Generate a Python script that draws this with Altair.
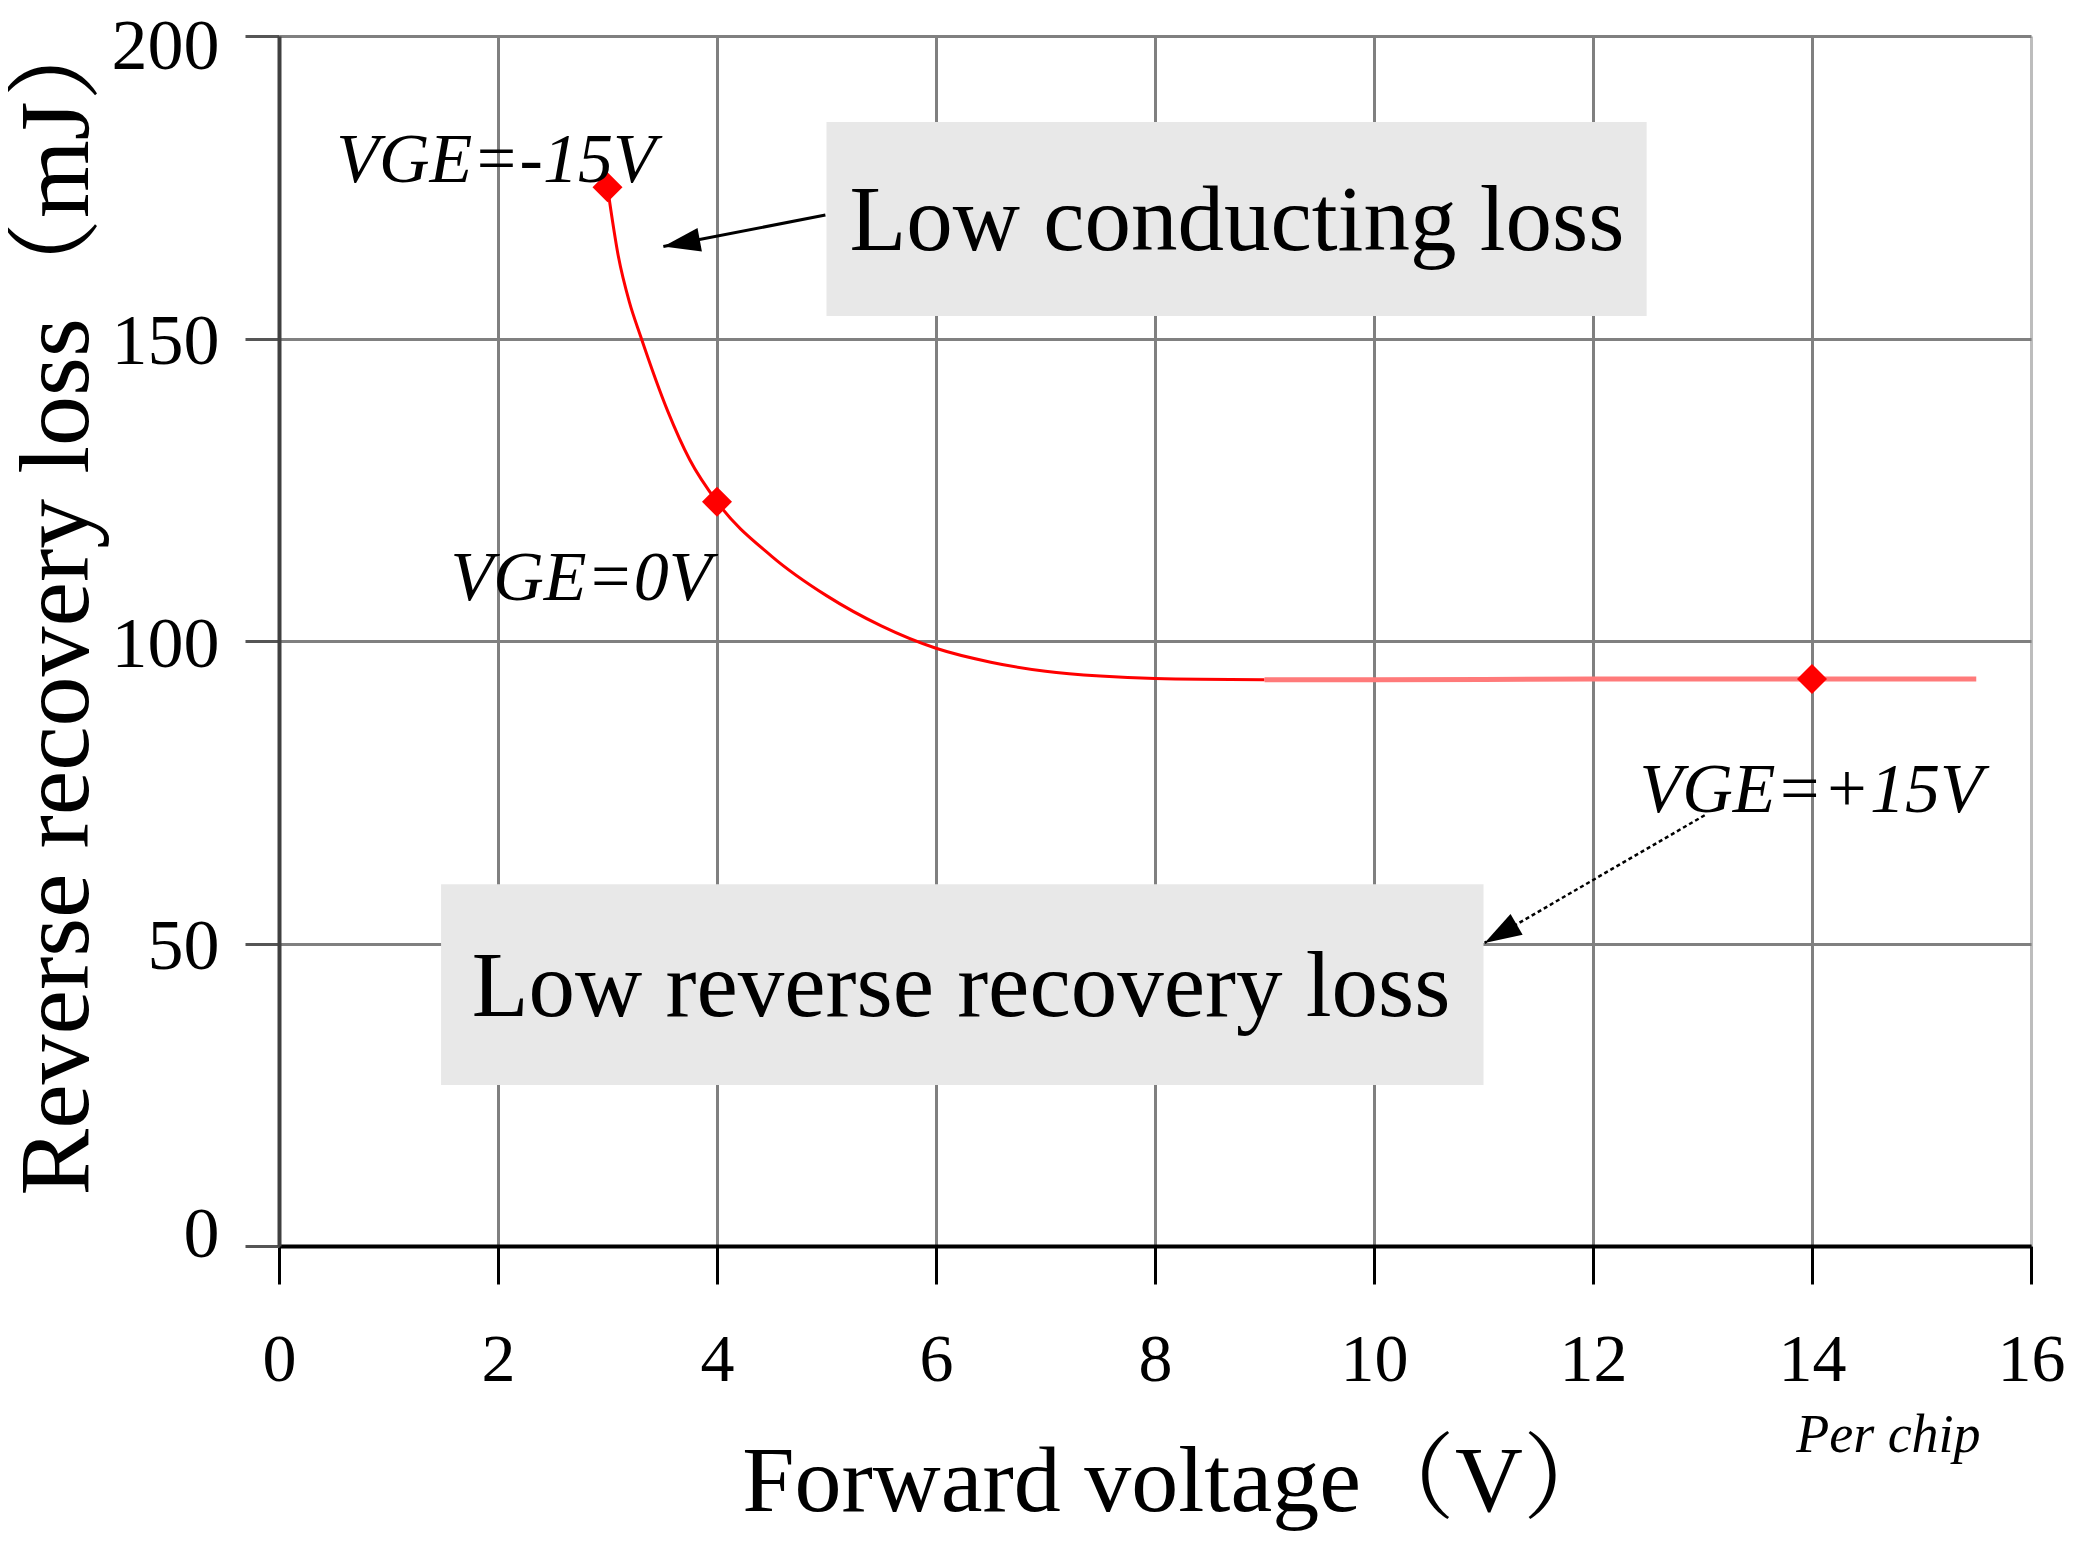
import altair as alt
import pandas as pd

# ---- data ----
curve_x = [3.0, 3.1, 3.2, 3.3, 3.55, 3.75, 4.0, 4.5, 5.0, 5.5, 6.0, 6.5, 7.0, 7.5, 8.0, 9.0]
curve_y = [175.0, 163.5, 156.0, 150.5, 138.0, 130.0, 123.0, 114.0, 107.5, 102.5, 98.8, 96.5, 95.0,
           94.2, 93.8, 93.6]
flat_x = [9.0, 10.0, 12.0, 14.0, 15.5]
flat_y = [93.6, 93.6, 93.7, 93.7, 93.7]
point_x = [3.0, 4.0, 14.0]
point_y = [175.0, 123.0, 93.7]

vge_text = ["VGE=-15V", "VGE=0V", "VGE=+15V"]
vge_x = [3.44, 3.95, 15.56]
vge_y = [175.9, 106.8, 71.7]

box_text = ["Low conducting loss", "Low reverse recovery loss"]
box_x = [5.0, 1.48]
box_x2 = [12.49, 11.0]
box_y = [185.8, 59.8]
box_y2 = [153.7, 26.6]
box_tx = [5.21, 1.76]
box_ty = [164.6, 38.0]

note_text = ["Per chip"]
note_x = [15.54]
note_y = [-34.0]

arrow1 = {"x": [4.99], "y": [170.4], "x2": [3.51], "y2": [165.2]}
arrow2 = {"x": [13.02], "y": [71.2], "x2": [11.01], "y2": [50.1]}

x_ticks = [0, 2, 4, 6, 8, 10, 12, 14, 16]
y_ticks = [0, 50, 100, 150, 200]

FONT = "Liberation Serif, Noto Serif CJK SC, Noto Sans CJK SC, serif"

xenc = alt.X(
    "x:Q",
    scale=alt.Scale(domain=[0, 16], nice=False, zero=False),
    axis=alt.Axis(
        values=x_ticks, format="d", title="Forward voltage（V）", grid=True,
        gridColor={"condition": {"test": "datum.value === 16", "value": "#bdbdbd"}, "value": "#808080"},
        gridWidth=3, domainColor="#000000", domainWidth=4,
        tickColor="#000000", tickWidth=3, tickSize=38,
        labelFont=FONT, labelFontSize=68, labelColor="#000000",
        labelBaseline="alphabetic", labelPadding=96, labelFlush=False,
        labelOverlap=False, labelBound=False,
        titleFont=FONT, titleFontSize=94, titleFontWeight="normal", titleColor="#000000",
        titleX=900, titleY=264, titleBaseline="alphabetic", titleAlign="center",
    ),
)
yenc = alt.Y(
    "y:Q",
    scale=alt.Scale(domain=[0, 200], nice=False, zero=False),
    axis=alt.Axis(
        values=y_ticks, format="d", title="Reverse recovery loss（mJ）", grid=True,
        gridColor="#808080", gridWidth=3, domainColor="#404040", domainWidth=4,
        tickColor="#555555", tickWidth=3, tickSize=34,
        labelFont=FONT, labelFontSize=72, labelColor="#000000",
        labelOffset={"condition": [{"test": "datum.value === 200", "value": 10},
                                   {"test": "datum.value === 0", "value": -12}], "value": 3},
        labelPadding=26, labelFlush=False, labelOverlap=False, labelBound=False,
        titleFont=FONT, titleFontSize=100, titleFontWeight="normal", titleColor="#000000",
        titleX=-192, titleY=562, titleBaseline="alphabetic", titleAlign="center", titleAngle=270,
    ),
)

boxes = pd.DataFrame({"x": box_x, "x2": box_x2, "y": box_y, "y2": box_y2, "t": box_text,
                      "tx": box_tx, "ty": box_ty})
curve = pd.DataFrame({"x": curve_x, "y": curve_y})
flat = pd.DataFrame({"x": flat_x, "y": flat_y})
pts = pd.DataFrame({"x": point_x, "y": point_y})
vge = pd.DataFrame({"x": vge_x, "y": vge_y, "t": vge_text})
note = pd.DataFrame({"x": note_x, "y": note_y, "t": note_text})
a1 = pd.DataFrame(arrow1)
a2 = pd.DataFrame(arrow2)

rect_layer = alt.Chart(boxes).mark_rect(color="#e8e8e8").encode(
    x=xenc, x2="x2:Q", y=yenc, y2="y2:Q")

box_txt = alt.Chart(boxes).mark_text(
    align="left", baseline="alphabetic", font=FONT, fontSize=93, color="#000000"
).encode(x=alt.X("tx:Q"), y=alt.Y("ty:Q"), text="t:N")

curve_layer = alt.Chart(curve).mark_line(color="#ff0000", strokeWidth=3, interpolate="monotone").encode(
    x=xenc, y=yenc)
flat_layer = alt.Chart(flat).mark_line(color="#ff7a7a", strokeWidth=5, interpolate="monotone").encode(
    x=xenc, y=yenc)

pt_layer = alt.Chart(pts).mark_point(shape="diamond", filled=True, size=900, color="#ff0000",
                                     opacity=1).encode(x=xenc, y=yenc)

vge_layer = alt.Chart(vge).mark_text(
    align="right", baseline="alphabetic", font=FONT, fontSize=70, fontStyle="italic", color="#000000"
).encode(x=xenc, y=yenc, text="t:N")

note_layer = alt.Chart(note).mark_text(
    align="right", baseline="alphabetic", font=FONT, fontSize=54, fontStyle="italic", color="#000000"
).encode(x=xenc, y=yenc, text="t:N")

head = "M0,0L0.65,2L-0.65,2Z"
a1_line = alt.Chart(a1).mark_rule(color="#000000", strokeWidth=3).encode(
    x=xenc, y=yenc, x2="x2:Q", y2="y2:Q")
a1_head = alt.Chart(a1).mark_point(shape=head, filled=True, size=1369, color="#000000",
                                   opacity=1, angle=259.5).encode(
    x=alt.X("x2:Q"), y=alt.Y("y2:Q"))
a2_line = alt.Chart(a2).mark_rule(color="#000000", strokeWidth=2.5, strokeDash=[4, 3]).encode(
    x=xenc, y=yenc, x2="x2:Q", y2="y2:Q")
a2_head = alt.Chart(a2).mark_point(shape=head, filled=True, size=1369, color="#000000",
                                   opacity=1, angle=239.8).encode(
    x=alt.X("x2:Q"), y=alt.Y("y2:Q"))

chart = alt.layer(
    rect_layer, box_txt, curve_layer, flat_layer, pt_layer, vge_layer, note_layer,
    a1_line, a1_head, a2_line, a2_head,
).properties(
    width=1752, height=1210,
    autosize=alt.AutoSizeParams(type="none"),
    padding={"left": 271, "top": 28, "right": 44, "bottom": 292},
    background="#ffffff",
).configure_view(stroke=None)

chart.save("out.html", embed_options={"renderer": "svg", "actions": False})
